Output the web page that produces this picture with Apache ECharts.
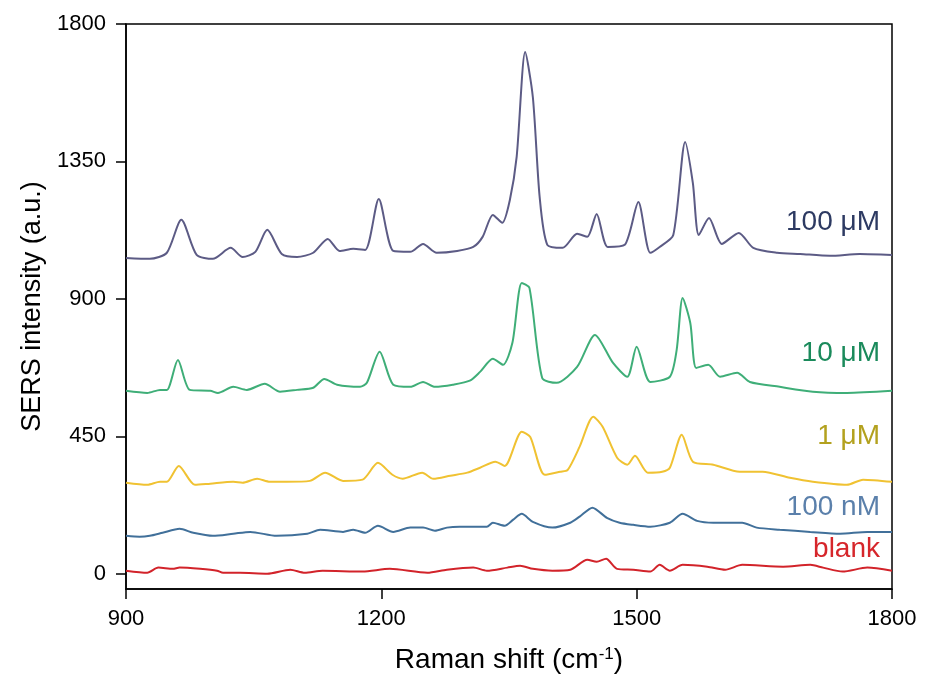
<!DOCTYPE html>
<html>
<head>
<meta charset="utf-8">
<script src="https://cdn.jsdelivr.net/npm/echarts@6/dist/echarts.min.js"></script>
<style>
  html, body { margin: 0; padding: 0; background: #fff; }
  #chart { width: 925px; height: 683px; }
</style>
</head>
<body>
<div id="chart"></div>
<script>
// spectra: [Raman shift, intensity]
const s100uM = [
  [900, 1034], [928, 1031], [948, 1051], [965, 1159], [983, 1044], [1002, 1031],
  [1023, 1067], [1037, 1037], [1052, 1054], [1066, 1126], [1083, 1047], [1101, 1037],
  [1120, 1051], [1137, 1096], [1151, 1057], [1167, 1064], [1181, 1060], [1197, 1227],
  [1214, 1057], [1234, 1054], [1249, 1080], [1265, 1051], [1289, 1057], [1308, 1070],
  [1319, 1103], [1331, 1175], [1342, 1149], [1351, 1224], [1359, 1365], [1369, 1708],
  [1378, 1561], [1386, 1234], [1395, 1077], [1413, 1067], [1430, 1113], [1442, 1103],
  [1453, 1178], [1466, 1070], [1486, 1077], [1502, 1217], [1516, 1051], [1527, 1070],
  [1543, 1109], [1557, 1414], [1566, 1280], [1573, 1109], [1585, 1165], [1600, 1080],
  [1620, 1116], [1637, 1067], [1665, 1051], [1692, 1047], [1727, 1041], [1762, 1047],
  [1800, 1044]
];
const s10uM = [
  [900, 599], [925, 592], [940, 602], [948, 602], [961, 700], [975, 602], [999, 599],
  [1008, 592], [1026, 612], [1042, 602], [1063, 622], [1081, 596], [1101, 602],
  [1120, 609], [1133, 638], [1148, 619], [1175, 612], [1183, 625], [1198, 727],
  [1214, 619], [1234, 612], [1249, 628], [1263, 612], [1284, 619], [1304, 632],
  [1316, 661], [1331, 704], [1343, 684], [1354, 756], [1365, 952], [1374, 936],
  [1389, 641], [1406, 625], [1430, 677], [1451, 782], [1472, 691], [1489, 645],
  [1500, 743], [1516, 628], [1539, 645], [1547, 733], [1554, 903], [1563, 821],
  [1570, 674], [1584, 684], [1598, 645], [1618, 658], [1633, 628], [1668, 612],
  [1707, 596], [1747, 592], [1800, 599]
];
const s1uM = [
  [900, 298], [925, 291], [940, 301], [948, 301], [962, 353], [981, 291], [999, 295],
  [1026, 301], [1037, 298], [1054, 311], [1069, 301], [1089, 301], [1116, 304],
  [1134, 331], [1155, 304], [1178, 308], [1196, 363], [1213, 324], [1225, 311],
  [1248, 331], [1261, 311], [1281, 321], [1301, 331], [1316, 347], [1334, 367],
  [1345, 353], [1365, 465], [1375, 448], [1392, 324], [1410, 334], [1419, 340],
  [1433, 416], [1449, 514], [1460, 481], [1477, 380], [1489, 357], [1498, 386],
  [1513, 331], [1530, 334], [1539, 347], [1553, 455], [1566, 367], [1590, 357],
  [1621, 334], [1648, 334], [1680, 314], [1707, 301], [1747, 291], [1766, 308],
  [1800, 301]
];
const s100nM = [
  [900, 124], [916, 121], [928, 124], [943, 134], [963, 147], [979, 134], [1002, 124],
  [1026, 131], [1046, 137], [1077, 124], [1113, 131], [1128, 144], [1155, 137],
  [1167, 144], [1181, 134], [1196, 157], [1214, 137], [1234, 151], [1249, 151],
  [1263, 141], [1277, 151], [1292, 154], [1324, 154], [1331, 167], [1345, 157],
  [1355, 177], [1365, 196], [1378, 170], [1401, 151], [1422, 167], [1433, 187],
  [1448, 216], [1465, 183], [1480, 167], [1496, 160], [1516, 154], [1539, 167],
  [1554, 196], [1571, 173], [1590, 167], [1606, 167], [1624, 167], [1641, 151],
  [1668, 144], [1704, 137], [1739, 131], [1771, 137], [1800, 137]
];
const sBlank = [
  [900, 10], [925, 3], [938, 20], [955, 16], [963, 20], [987, 16], [1007, 10],
  [1014, 3], [1034, 3], [1066, 0], [1093, 13], [1110, 3], [1131, 10], [1178, 7],
  [1210, 16], [1254, 3], [1277, 13], [1308, 20], [1324, 10], [1348, 20], [1363, 26],
  [1378, 16], [1401, 10], [1422, 13], [1442, 46], [1453, 39], [1464, 49], [1477, 16],
  [1496, 13], [1516, 7], [1527, 29], [1539, 10], [1554, 29], [1583, 23], [1604, 13],
  [1624, 29], [1672, 23], [1704, 29], [1719, 20], [1742, 7], [1771, 20], [1800, 10]
];
const yTicks = [0, 450, 900, 1350, 1800];
const seriesNames = ['100 μM', '10 μM', '1 μM', '100 nM', 'blank'];
const lineColors = ['#5c5b85', '#3fae78', '#f0c232', '#41709a', '#d2232a'];
const labelColors = ['#2d3a62', '#1a8a5b', '#b3a11e', '#5b80ab', '#d6262b'];
const labelY = [224, 355, 438, 509, 551];

const chart = echarts.init(document.getElementById('chart'));
const font = 'Liberation Sans, Arial, sans-serif';
const allData = [s100uM, s10uM, s1uM, s100nM, sBlank];

const option = {
  backgroundColor: '#fff',
  animation: false,
  grid: {
    left: 126, right: 33, top: 24, bottom: 94,
    show: true, borderColor: '#000', borderWidth: 1.5
  },
  xAxis: {
    type: 'value', min: 900, max: 1800, interval: 300,
    name: 'Raman shift (cm{sup|-1})',
    nameLocation: 'middle', nameGap: 57,
    nameTextStyle: {
      fontFamily: font, fontSize: 28, color: '#000',
      rich: { sup: { fontFamily: font, fontSize: 17, verticalAlign: 'top', color: '#000' } }
    },
    axisLine: { show: true, onZero: false, lineStyle: { color: '#000', width: 1.5 } },
    axisTick: { show: true, length: 10, lineStyle: { color: '#000', width: 1.5 } },
    axisLabel: { fontFamily: font, fontSize: 22, color: '#000', margin: 19, formatter: v => String(v) },
    splitLine: { show: false }
  },
  yAxis: {
    type: 'value', min: -50, max: 1800,
    name: 'SERS intensity (a.u.)',
    nameLocation: 'middle', nameGap: 80,
    nameTextStyle: { fontFamily: font, fontSize: 27, color: '#000' },
    axisLine: { show: true, onZero: false, lineStyle: { color: '#000', width: 1.5 } },
    axisTick: { show: true, length: 10, customValues: yTicks, lineStyle: { color: '#000', width: 1.5 } },
    axisLabel: {
      fontFamily: font, fontSize: 22, color: '#000', margin: 20,
      customValues: yTicks, formatter: v => String(v)
    },
    splitLine: { show: false }
  },
  series: allData.map((d, i) => ({
    name: seriesNames[i],
    type: 'line',
    data: d,
    showSymbol: false,
    smooth: 0.25,
    lineStyle: { color: lineColors[i], width: 2 },
    z: 5 - i
  })),
  graphic: seriesNames.map((n, i) => ({
    type: 'text',
    right: 45,
    top: labelY[i] - 16,
    style: { text: n, fontFamily: font, fontSize: 28, fill: labelColors[i] }
  }))
};
chart.setOption(option);
</script>
</body>
</html>
